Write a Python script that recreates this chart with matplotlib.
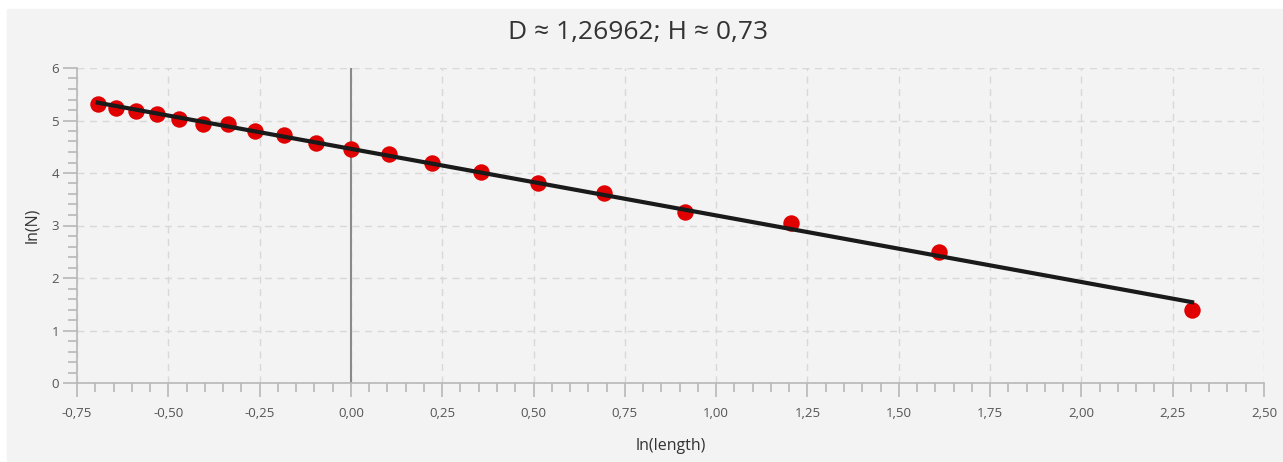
import numpy as np
import matplotlib
matplotlib.use("Agg")
import matplotlib.pyplot as plt
from matplotlib.ticker import MultipleLocator, AutoMinorLocator, FuncFormatter
from matplotlib.patches import Rectangle

# ln(length) / ln(N) pairs
ln_length = [-0.693, -0.642, -0.588, -0.531, -0.470, -0.405, -0.336, -0.262, -0.182, -0.095,
             0.0, 0.105, 0.223, 0.357, 0.511, 0.693, 0.916, 1.204, 1.609, 2.303]
ln_n = [5.31, 5.24, 5.18, 5.12, 5.03, 4.93, 4.93, 4.80, 4.72, 4.57,
        4.46, 4.36, 4.19, 4.02, 3.81, 3.62, 3.26, 3.05, 2.50, 1.39]
title = "D \u2248 1,26962; H \u2248 0,73"

plt.rcParams['font.family'] = ['Open Sans', 'DejaVu Sans']

fig = plt.figure(figsize=(12.83, 4.62), dpi=100, facecolor="white")
bg = Rectangle((7 / 1283, 0), 1 - 7 / 1283, 1 - 9 / 462,
               transform=fig.transFigure, color="#f3f3f3", zorder=-10)
fig.add_artist(bg)
ax = fig.add_axes([77 / 1283, 1 - 383 / 462, (1264 - 77) / 1283, (383 - 68) / 462])
ax.set_facecolor("#f3f3f3")

# fitted line through the points
x = np.array(ln_length)
y = np.array(ln_n)
k, b = np.polyfit(x, y, 1)
ax.axvline(0, color="#8a8a8a", lw=1.5, zorder=1)
ax.scatter(x, y, s=140, color="#e00000", zorder=3, linewidths=0)
ax.plot([x[0], x[-1]], [k * x[0] + b, k * x[-1] + b], color="#1a1a1a", lw=3, zorder=4)

ax.set_xlim(-0.75, 2.5)
ax.set_ylim(0, 6)
ax.xaxis.set_major_locator(MultipleLocator(0.25))
ax.yaxis.set_major_locator(MultipleLocator(1))
ax.xaxis.set_minor_locator(AutoMinorLocator(5))
ax.yaxis.set_minor_locator(AutoMinorLocator(5))
ax.xaxis.set_major_formatter(FuncFormatter(lambda v, p: f"{v:.2f}".replace(".", ",")))
ax.yaxis.set_major_formatter(FuncFormatter(lambda v, p: f"{v:.0f}"))

for s in ["top", "right"]:
    ax.spines[s].set_visible(False)
for s in ["left", "bottom"]:
    ax.spines[s].set_color("#b8b8b8")
    ax.spines[s].set_linewidth(1.2)
ax.tick_params(which="major", length=10, width=1.2, color="#b8b8b8", labelcolor="#555555",
               labelsize=9.5)
ax.tick_params(axis="x", which="major", pad=7)
ax.tick_params(axis="y", which="major", pad=3)
ax.tick_params(which="minor", length=6.5, width=1.2, color="#b8b8b8")
ax.grid(True, which="major", linestyle=(0, (5, 4)), color="#d8d8d8", lw=1)
ax.set_axisbelow(True)

ax.set_xlabel("ln(length)", fontsize=11.5, color="#333333", labelpad=13)
ax.set_ylabel("ln(N)", fontsize=11.5, color="#333333", labelpad=8)
fig.text(0.497, 1 - 32 / 462, title, fontsize=19, color="#333333", ha="center", va="center")

fig.savefig("out.png", dpi=100, facecolor=fig.get_facecolor())
